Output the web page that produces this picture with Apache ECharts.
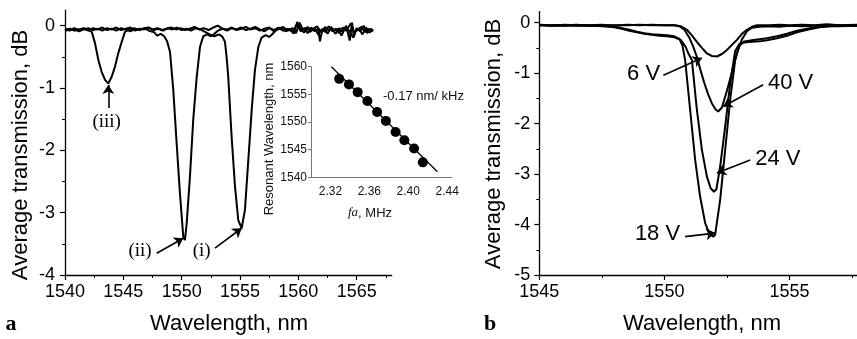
<!DOCTYPE html>
<html><head><meta charset="utf-8">
<script src="https://cdn.jsdelivr.net/npm/echarts@6/dist/echarts.min.js"></script>
<style>html,body{margin:0;padding:0;background:#fff}#c{width:857px;height:339px}</style>
</head><body><div id="c"></div>
<script>
// ---------- Panel a : three resonances ----------
const aIiiX = [1540.0,1540.4,1540.8,1541.2,1541.6,1542.0,1542.3,1542.57,1542.86,1543.14,1543.43,1543.71,1544.0,1544.28,1544.57,1544.86,1545.14,1545.5,1545.9,1546.3,1546.7,1547.1,1547.5,1547.9,1548.3,1548.7,1549.1,1549.5,1549.9,1550.3,1550.7,1551.1,1551.5,1551.9,1552.3,1552.7,1553.1,1553.5,1553.9,1554.3,1554.7,1555.1,1555.5,1555.9,1556.3,1556.7,1557.1,1557.5,1557.9,1558.3,1558.7,1559.1,1559.5,1559.9,1560.2,1560.5,1560.8,1561.1,1561.4,1561.7,1561.85,1562.0,1562.3,1562.6,1562.9,1563.2,1563.5,1563.8,1564.1,1564.4,1564.6,1564.75,1564.9,1565.2,1565.5,1565.8,1566.1,1566.4];
const aIiiY = [-0.07,-0.05,-0.08,-0.06,-0.04,-0.07,-0.10,-0.28,-0.55,-0.74,-0.87,-0.93,-0.82,-0.66,-0.44,-0.26,-0.10,-0.06,-0.04,-0.07,-0.05,-0.03,-0.06,-0.04,-0.07,-0.05,-0.03,-0.06,-0.04,-0.07,-0.05,-0.02,-0.06,-0.04,-0.07,-0.03,0.0,-0.05,-0.08,-0.04,-0.06,-0.03,-0.07,-0.05,-0.02,-0.06,-0.09,-0.04,-0.07,-0.03,-0.08,-0.05,-0.10,0.03,-0.09,-0.04,-0.12,-0.03,-0.09,-0.05,-0.25,-0.11,-0.02,-0.08,-0.06,-0.13,-0.04,-0.10,0.0,-0.24,0.05,-0.18,-0.09,-0.05,-0.14,-0.03,-0.11,-0.06];

const aIiX = [1540.0,1540.4,1540.8,1541.2,1541.6,1542.0,1542.4,1542.8,1543.2,1543.6,1544.0,1544.4,1544.8,1545.2,1545.6,1546.0,1546.4,1546.8,1547.2,1547.6,1547.9,1548.2,1548.5,1548.75,1549.0,1549.28,1549.57,1549.85,1550.14,1550.28,1550.43,1550.71,1550.99,1551.29,1551.57,1551.85,1552.2,1552.5,1552.8,1553.1,1553.5,1553.9,1554.3,1554.7,1555.1,1555.5,1555.9,1556.3,1556.7,1557.1,1557.5,1557.9,1558.3,1558.7,1559.1,1559.5,1559.8,1560.1,1560.4,1560.7,1561.0,1561.3,1561.6,1561.9,1562.2,1562.5,1562.8,1563.1,1563.4,1563.7,1564.0,1564.3,1564.7,1565.0,1565.3,1565.6,1565.9,1566.2,1566.4];
const aIiY = [-0.05,-0.08,-0.04,-0.07,-0.05,-0.08,-0.04,-0.06,-0.03,-0.07,-0.05,-0.08,-0.04,-0.06,-0.09,-0.05,-0.07,-0.04,-0.08,-0.10,-0.16,-0.13,-0.17,-0.25,-0.42,-1.03,-1.89,-2.69,-3.39,-3.44,-3.17,-2.42,-1.51,-0.82,-0.34,-0.17,-0.14,-0.17,-0.13,-0.08,-0.05,-0.06,-0.03,-0.07,-0.05,-0.02,-0.06,-0.04,-0.08,-0.05,-0.03,-0.09,-0.05,-0.02,-0.08,-0.04,-0.12,0.05,-0.07,-0.03,-0.10,-0.05,-0.01,-0.09,-0.04,-0.13,-0.02,-0.08,-0.05,-0.16,-0.03,-0.07,-0.19,-0.04,-0.09,0.0,-0.12,-0.05,-0.08];

const aIX = [1540.0,1540.4,1540.8,1541.2,1541.6,1542.0,1542.4,1542.8,1543.2,1543.6,1544.0,1544.4,1544.8,1545.2,1545.6,1546.0,1546.4,1546.8,1547.2,1547.6,1548.0,1548.4,1548.8,1549.2,1549.6,1550.0,1550.4,1550.8,1551.2,1551.6,1552.0,1552.4,1552.8,1553.2,1553.5,1553.71,1553.85,1553.99,1554.28,1554.57,1554.85,1555.14,1555.42,1555.71,1556.0,1556.28,1556.57,1556.85,1557.2,1557.5,1557.8,1558.1,1558.5,1558.9,1559.3,1559.6,1559.9,1560.2,1560.5,1560.8,1561.1,1561.4,1561.7,1562.0,1562.3,1562.6,1562.9,1563.2,1563.5,1563.8,1564.1,1564.5,1564.8,1565.1,1565.4,1565.7,1566.0,1566.4];
const aIY = [-0.08,-0.06,-0.05,-0.09,-0.06,-0.04,-0.07,-0.05,-0.08,-0.04,-0.06,-0.03,-0.07,-0.05,-0.03,-0.08,-0.05,-0.06,-0.03,-0.07,-0.05,-0.08,-0.04,-0.06,-0.03,-0.07,-0.05,-0.08,-0.04,-0.06,-0.10,-0.14,-0.17,-0.14,-0.18,-0.26,-0.50,-0.82,-1.78,-2.58,-3.12,-3.25,-2.96,-2.16,-1.35,-0.71,-0.34,-0.19,-0.15,-0.18,-0.13,-0.07,-0.04,-0.09,-0.05,-0.13,0.06,-0.06,-0.11,-0.02,-0.08,-0.04,-0.14,-0.06,-0.10,-0.01,-0.09,-0.05,-0.12,-0.03,-0.08,0.04,-0.11,-0.06,-0.02,-0.10,-0.05,-0.09];

// ---------- Inset : resonant wavelength vs fa ----------
const insetF = [2.329,2.339,2.348,2.358,2.368,2.377,2.387,2.396,2.406,2.415];
const insetWl = [1557.8,1556.8,1555.4,1553.8,1551.8,1550.2,1548.2,1546.7,1545.2,1542.7];
const fitF = [2.321,2.430];
const fitWl = [1560.0,1541.0];

// ---------- Panel b : drive voltages ----------
const b6X = [1545.0,1545.5,1546.0,1546.5,1547.0,1547.5,1548.0,1548.5,1549.0,1549.5,1550.0,1550.4,1550.65,1550.9,1551.1,1551.3,1551.5,1551.7,1551.9,1552.1,1552.3,1552.5,1552.7,1552.9,1553.1,1553.3,1553.5,1553.7,1554.2,1554.6,1555.0,1555.5,1556.0,1556.5,1557.0,1557.7];
const b6Y = [-0.04,-0.06,-0.04,-0.05,-0.05,-0.04,-0.06,-0.04,-0.05,-0.04,-0.05,-0.05,-0.07,-0.14,-0.25,-0.38,-0.50,-0.61,-0.66,-0.67,-0.62,-0.54,-0.44,-0.34,-0.22,-0.14,-0.08,-0.05,-0.05,-0.04,-0.05,-0.04,-0.05,-0.03,-0.05,-0.04];
const b40X = [1545.0,1545.5,1546.0,1546.5,1547.0,1547.5,1548.0,1548.5,1549.0,1549.5,1550.0,1550.4,1550.6,1550.8,1551.0,1551.15,1551.3,1551.45,1551.6,1551.75,1551.9,1552.05,1552.15,1552.3,1552.5,1552.7,1552.9,1553.1,1553.3,1553.5,1553.8,1554.2,1554.6,1555.0,1555.5,1556.0,1556.5,1557.0,1557.7];
const b40Y = [-0.05,-0.05,-0.05,-0.04,-0.06,-0.05,-0.05,-0.05,-0.04,-0.05,-0.05,-0.05,-0.07,-0.14,-0.30,-0.47,-0.68,-0.95,-1.20,-1.42,-1.60,-1.72,-1.76,-1.68,-1.35,-0.98,-0.60,-0.33,-0.17,-0.10,-0.08,-0.07,-0.08,-0.06,-0.07,-0.06,-0.06,-0.05,-0.06];
const b24X = [1545.0,1545.5,1546.0,1546.5,1547.0,1547.5,1548.0,1548.3,1548.6,1548.9,1549.2,1549.5,1549.8,1550.1,1550.4,1550.65,1550.85,1550.95,1551.1,1551.3,1551.5,1551.7,1551.85,1551.98,1552.08,1552.23,1552.43,1552.63,1552.83,1553.0,1553.2,1553.5,1553.8,1554.1,1554.5,1554.9,1555.3,1555.8,1556.2,1556.6,1557.0,1557.7];
const b24Y = [-0.04,-0.05,-0.06,-0.05,-0.06,-0.06,-0.09,-0.12,-0.16,-0.19,-0.22,-0.24,-0.26,-0.27,-0.29,-0.34,-0.48,-0.60,-0.74,-1.73,-2.52,-3.05,-3.28,-3.35,-3.30,-2.85,-2.06,-1.20,-0.56,-0.42,-0.39,-0.38,-0.37,-0.35,-0.31,-0.26,-0.19,-0.13,-0.09,-0.07,-0.07,-0.06];
const b18X = [1545.0,1545.5,1546.0,1546.5,1547.0,1547.5,1548.0,1548.3,1548.6,1548.9,1549.2,1549.5,1549.8,1550.1,1550.4,1550.6,1550.72,1550.83,1551.03,1551.23,1551.43,1551.63,1551.8,1551.96,1552.03,1552.23,1552.43,1552.63,1552.83,1553.0,1553.2,1553.5,1553.8,1554.1,1554.5,1554.9,1555.3,1555.8,1556.2,1556.6,1557.0,1557.7];
const b18Y = [-0.05,-0.06,-0.05,-0.06,-0.05,-0.07,-0.08,-0.11,-0.14,-0.18,-0.21,-0.23,-0.24,-0.25,-0.27,-0.32,-0.45,-0.74,-1.73,-2.72,-3.45,-3.97,-4.18,-4.24,-4.20,-3.51,-2.52,-1.53,-0.74,-0.45,-0.37,-0.35,-0.33,-0.31,-0.27,-0.22,-0.16,-0.11,-0.08,-0.07,-0.06,-0.06];

// ---------- tick labels ----------
const aXTicks = [1540,1545,1550,1555,1560,1565];
const aXMinor = [1542.5,1547.5,1552.5,1557.5,1562.5,1567.5];
const aYTicks = [-4,-3,-2,-1,0];
const aYMinor = [-3.5,-2.5,-1.5,-0.5];
const bXTicks = [1545,1550,1555];
const bXMinor = [1547.5,1552.5,1557.5];
const bYTicks = [-5,-4,-3,-2,-1,0];
const bYMinor = [-4.5,-3.5,-2.5,-1.5,-0.5];
const inXTicks = [2.32,2.36,2.40,2.44];
const inYTicks = [1540,1545,1550,1555,1560];

// ---------- annotations ----------
const annA = [
  {text:'(iii)', at:[1543.57,-1.54], align:'center', from:[1543.71,-1.32], to:[1543.71,-0.95]},
  {text:'(ii)', at:[1546.43,-3.62], align:'center', from:[1547.86,-3.65], to:[1550.14,-3.41]},
  {text:'(i)', at:[1551.71,-3.62], align:'center', from:[1552.85,-3.57], to:[1555.14,-3.25]}
];
const annB = [
  {text:'6 V', at:[1549.83,-1.02], align:'right', from:[1549.96,-1.04], to:[1551.5,-0.70]},
  {text:'40 V', at:[1554.14,-1.20], align:'left', from:[1553.95,-1.23], to:[1552.35,-1.66]},
  {text:'24 V', at:[1553.63,-2.70], align:'left', from:[1553.43,-2.72], to:[1552.1,-2.98]},
  {text:'18 V', at:[1550.63,-4.18], align:'right', from:[1550.83,-4.24], to:[1552.03,-4.17]}
];

const zip = (xs, ys) => xs.map((x, i) => [x, ys[i]]);
const SANS = 'Liberation Sans, Arial, sans-serif';
const SERIF = 'Liberation Serif, Times New Roman, serif';

function axisPair(dim, grid, min, max, majors, minors, fs, margin) {
  const main = {
    type:'value', gridIndex:grid, min:min, max:max, position: dim==='x'?'bottom':'left',
    axisLine:{show:true, onZero:false, lineStyle:{color:'#000', width:1.3}},
    axisTick:{show:true, inside:false, length:5, customValues:majors, lineStyle:{color:'#000', width:1.2}},
    axisLabel:{show:true, customValues:majors, fontSize:fs, fontFamily:SANS, color:'#000', margin:margin, formatter:v=>String(v)},
    splitLine:{show:false}
  };
  const minor = {
    type:'value', gridIndex:grid, min:min, max:max, position: dim==='x'?'bottom':'left',
    axisLine:{show:false, onZero:false},
    axisTick:{show:true, inside:false, length:3, customValues:minors, lineStyle:{color:'#000', width:1}},
    axisLabel:{show:false}, splitLine:{show:false}
  };
  return [main, minor];
}

const xAxes = [].concat(
  axisPair('x',0,1540,1568,aXTicks,aXMinor,18,8),
  axisPair('x',1,1545,1557.7,bXTicks,bXMinor,18,8),
  [{type:'value', gridIndex:2, min:2.30, max:2.445,
    axisLine:{show:true, onZero:false, lineStyle:{color:'#777', width:1}},
    axisTick:{show:false},
    axisLabel:{customValues:inXTicks, fontSize:12, fontFamily:SANS, color:'#111', margin:8, formatter:v=>v.toFixed(2)},
    splitLine:{show:false}}]
);
const yAxes = [].concat(
  axisPair('y',0,-4,0.25,aYTicks,aYMinor,18,10),
  axisPair('y',1,-5,0.22,bYTicks,bYMinor,18,9),
  [{type:'value', gridIndex:2, min:1540, max:1560,
    axisLine:{show:true, onZero:false, lineStyle:{color:'#777', width:1}},
    axisTick:{show:true, length:3, customValues:inYTicks, lineStyle:{color:'#777'}},
    axisLabel:{customValues:inYTicks, fontSize:12, fontFamily:SANS, color:'#111', margin:4, formatter:v=>String(v)},
    splitLine:{show:false}}]
);

function lineSeries(data, xi, yi, w, ann) {
  const s = {type:'line', data:data, xAxisIndex:xi, yAxisIndex:yi, showSymbol:false, symbol:'none',
    lineStyle:{color:'#000', width:w}, silent:true, z:3};
  if (ann) {
    s.markLine = {silent:true, symbol:['none','arrow'], symbolSize:9, animation:false,
      lineStyle:{color:'#000', width:1.6, type:'solid'}, label:{show:false},
      data: ann.map(a => [{coord:a.from}, {coord:a.to}])};
  }
  return s;
}

const chart = echarts.init(document.getElementById('c'), null, {renderer:'canvas'});
const option = {
  animation:false,
  backgroundColor:'#fff',
  grid:[
    {left:65, right:465.3, top:10.1, bottom:64},
    {left:539.3, right:0, top:11.6, bottom:64},
    {left:311, right:405, top:66.7, bottom:161.7}
  ],
  xAxis:xAxes, yAxis:yAxes,
  series:[
    lineSeries(zip(aIiiX,aIiiY),0,0,2,annA),
    lineSeries(zip(aIiX,aIiY),0,0,2),
    lineSeries(zip(aIX,aIY),0,0,2),
    lineSeries(zip(b6X,b6Y),2,2,2,annB),
    lineSeries(zip(b40X,b40Y),2,2,2),
    lineSeries(zip(b24X,b24Y),2,2,2),
    lineSeries(zip(b18X,b18Y),2,2,2),
    {type:'line', data:zip(fitF,fitWl), xAxisIndex:4, yAxisIndex:4, showSymbol:false, symbol:'none', lineStyle:{color:'#000', width:1.2}, z:3},
    {type:'scatter', data:zip(insetF,insetWl), xAxisIndex:4, yAxisIndex:4, symbol:'circle', symbolSize:10, itemStyle:{color:'#000', opacity:1}, z:4}
  ]
};
chart.setOption(option);

const graphics = [];
annA.forEach(a => {
  const p = chart.convertToPixel({xAxisIndex:0, yAxisIndex:0}, a.at);
  graphics.push({type:'text', x:p[0], y:p[1], style:{text:a.text, font:'19px ' + SERIF, fill:'#000', textAlign:a.align, textVerticalAlign:'middle'}});
});
annB.forEach(a => {
  const p = chart.convertToPixel({xAxisIndex:2, yAxisIndex:2}, a.at);
  graphics.push({type:'text', x:p[0], y:p[1], style:{text:a.text, font:'22px ' + SANS, fill:'#000', textAlign:a.align, textVerticalAlign:'middle'}});
});
// axis titles and panel letters
graphics.push(
  {type:'text', x:21, y:155, rotation:Math.PI/2, style:{text:'Average transmission, dB', font:'22px ' + SANS, fill:'#000', textAlign:'center', textVerticalAlign:'middle'}},
  {type:'text', x:494, y:144, rotation:Math.PI/2, style:{text:'Average transmission, dB', font:'22px ' + SANS, fill:'#000', textAlign:'center', textVerticalAlign:'middle'}},
  {type:'text', x:229, y:324, style:{text:'Wavelength, nm', font:'22px ' + SANS, fill:'#000', textAlign:'center', textVerticalAlign:'middle'}},
  {type:'text', x:702, y:324, style:{text:'Wavelength, nm', font:'22px ' + SANS, fill:'#000', textAlign:'center', textVerticalAlign:'middle'}},
  {type:'text', x:11, y:324, style:{text:'a', font:'bold 22px ' + SERIF, fill:'#000', textAlign:'center', textVerticalAlign:'middle'}},
  {type:'text', x:490, y:324, style:{text:'b', font:'bold 22px ' + SERIF, fill:'#000', textAlign:'center', textVerticalAlign:'middle'}},
  {type:'text', x:269, y:139, rotation:Math.PI/2, style:{text:'Resonant Wavelength, nm', font:'13px ' + SANS, fill:'#111', textAlign:'center', textVerticalAlign:'middle'}},
  {type:'text', x:383, y:96, style:{text:'-0.17 nm/ kHz', font:'13px ' + SANS, fill:'#111', textAlign:'left', textVerticalAlign:'middle'}},
  {type:'text', x:370, y:213, style:{text:'{i|fa}, MHz', rich:{i:{font:'italic 13px ' + SERIF, fill:'#111'}}, font:'13px ' + SANS, fill:'#111', textAlign:'center', textVerticalAlign:'middle'}}
);
chart.setOption({graphic:graphics});
</script>
</body></html>
